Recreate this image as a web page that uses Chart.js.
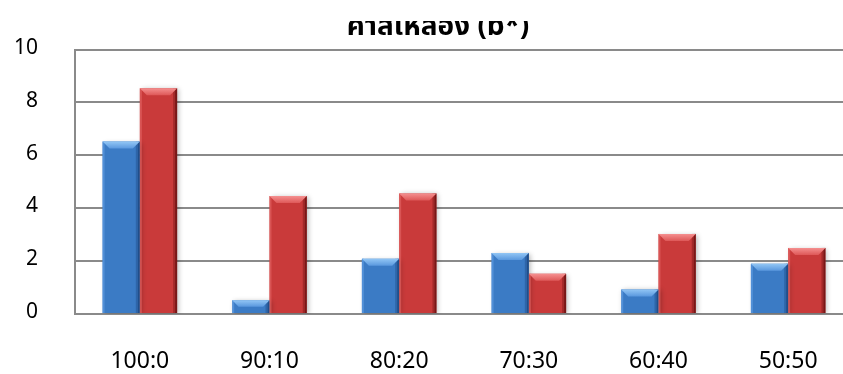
<!DOCTYPE html>
<html>
<head>
<meta charset="utf-8">
<script src="https://cdn.jsdelivr.net/npm/chart.js@4"></script>
<style>
  html, body { margin: 0; padding: 0; background: #fff; overflow: hidden; }
  #wrap { width: 843px; height: 374px; overflow: hidden; position: relative; }
  #c { position: absolute; left: 0; top: 0; }
</style>
</head>
<body>
<div id="wrap"><canvas id="c"></canvas></div>
<script>
// Mixing ratios and yellowness values (b*) for the two sample groups
const categories = ['100:0', '90:10', '80:20', '70:30', '60:40', '50:50'];
const seriesBlue = [6.52, 0.52, 2.09, 2.31, 0.93, 1.90];
const seriesRed  = [8.54, 4.46, 4.56, 1.52, 3.03, 2.50];
const yTicks = [0, 2, 4, 6, 8, 10];
const titleText = 'ค่าสีเหลือง (b*)';

const FONT = "'Noto Sans Thai', 'Noto Sans', 'DejaVu Sans', sans-serif";

const palettes = [
  { l: '#4f8fd8', m: '#3b7bc5', r: '#2a5fa3', top1: '#92c6f5', top2: '#5a98de', edgeL: '#5d9ae0', edgeR: '#1c477f' },
  { l: '#d94c4c', m: '#c93a3a', r: '#a82929', top1: '#f59090', top2: '#de5858', edgeL: '#e06060', edgeR: '#6a1212' }
];

function bodyFill(idx) {
  return (ctx) => {
    const el = ctx.element;
    const chart = ctx.chart;
    const p = palettes[idx];
    if (!el || !Number.isFinite(el.x) || !Number.isFinite(el.width)) return p.m;
    const x0 = el.x - el.width / 2, x1 = el.x + el.width / 2;
    const g = chart.ctx.createLinearGradient(x0, 0, x1, 0);
    g.addColorStop(0, p.l);
    g.addColorStop(0.45, p.m);
    g.addColorStop(1, p.r);
    return g;
  };
}

// Soft drop shadow behind the bars
const shadowPlugin = {
  id: 'barShadow',
  beforeDatasetDraw(chart) {
    const ctx = chart.ctx;
    ctx.save();
    ctx.shadowColor = 'rgba(0,0,0,0.28)';
    ctx.shadowBlur = 5;
    ctx.shadowOffsetX = 2;
    ctx.shadowOffsetY = 1;
  },
  afterDatasetDraw(chart) {
    chart.ctx.restore();
  }
};

// Bevelled top face and side edges on each bar
const bevelPlugin = {
  id: 'bevel',
  afterDatasetsDraw(chart) {
    const ctx = chart.ctx;
    chart.data.datasets.forEach((ds, i) => {
      const meta = chart.getDatasetMeta(i);
      const p = palettes[i];
      meta.data.forEach(bar => {
        const { x, y, base, width } = bar.getProps(['x', 'y', 'base', 'width'], true);
        if (![x, y, base, width].every(Number.isFinite)) return;
        const l = x - width / 2, r = x + width / 2, t = y, b = base;
        const h = b - t;
        const d = Math.max(1, Math.min(7, h / 2));
        ctx.save();
        ctx.fillStyle = p.edgeL;
        ctx.globalAlpha = 0.7;
        ctx.fillRect(l, t, 2, h);
        ctx.globalAlpha = 0.85;
        ctx.fillStyle = p.edgeR;
        ctx.fillRect(r - 2, t, 2, h);
        ctx.globalAlpha = 0.4;
        ctx.fillRect(r - 4, t, 2, h);
        ctx.globalAlpha = 1;
        const g = ctx.createLinearGradient(0, t, 0, t + d);
        g.addColorStop(0, p.top1);
        g.addColorStop(1, p.top2);
        ctx.beginPath();
        ctx.moveTo(l, t);
        ctx.lineTo(r, t);
        ctx.lineTo(r - d, t + d);
        ctx.lineTo(l + d, t + d);
        ctx.closePath();
        ctx.fillStyle = g;
        ctx.fill();
        ctx.restore();
      });
    });
  }
};

// Title, with the upper band of the image left blank
const titlePlugin = {
  id: 'clippedTitle',
  afterDraw(chart) {
    const ctx = chart.ctx;
    ctx.save();
    ctx.beginPath();
    ctx.rect(0, 21, chart.width, chart.height);
    ctx.clip();
    ctx.font = 'bold 28px ' + FONT;
    ctx.textAlign = 'center';
    ctx.textBaseline = 'alphabetic';
    ctx.fillStyle = '#000';
    ctx.fillText(titleText, 438, 35);
    ctx.restore();
  }
};

const canvas = document.getElementById('c');
canvas.style.width = '856px';
canvas.style.height = '374px';
canvas.width = 856;
canvas.height = 374;

new Chart(canvas, {
  type: 'bar',
  data: {
    labels: categories,
    datasets: [
      { data: seriesBlue, backgroundColor: bodyFill(0), borderWidth: 0 },
      { data: seriesRed,  backgroundColor: bodyFill(1), borderWidth: 0 }
    ]
  },
  options: {
    responsive: false,
    animation: false,
    devicePixelRatio: 1,
    layout: { padding: { left: 0, right: 3, top: 47, bottom: 0 } },
    datasets: { bar: { categoryPercentage: 0.575, barPercentage: 1 } },
    plugins: {
      legend: { display: false },
      tooltip: { enabled: false },
      title: { display: false }
    },
    scales: {
      x: {
        grid: { display: false, drawTicks: false },
        border: { display: true, color: '#8a8a8a', width: 2 },
        ticks: { color: '#000', font: { family: FONT, size: 23 }, padding: 36, maxRotation: 0 },
        afterFit(scale) { scale.height = 60; }
      },
      y: {
        min: 0,
        max: 10,
        afterBuildTicks(scale) { scale.ticks = yTicks.map(v => ({ value: v })); },
        grid: { color: '#8a8a8a', lineWidth: 2, drawTicks: false },
        border: { display: true, color: '#8a8a8a', width: 2 },
        ticks: { color: '#000', font: { family: FONT, size: 21 }, padding: 37 },
        afterFit(scale) { scale.width = 75; }
      }
    }
  },
  plugins: [shadowPlugin, bevelPlugin, titlePlugin]
});
</script>
</body>
</html>
